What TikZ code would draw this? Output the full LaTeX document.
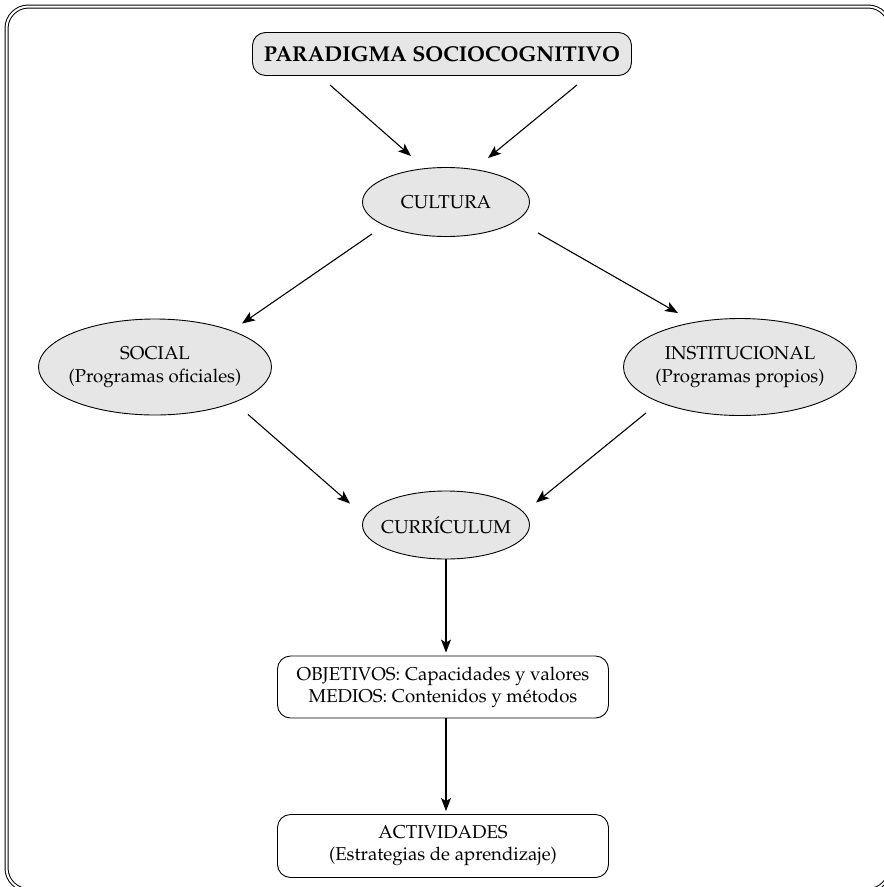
\documentclass[tikz,border=0pt]{standalone}
\usepackage[T1]{fontenc}
\usepackage{mathpazo}
\usepackage{tikz}
\usetikzlibrary{shapes, arrows.meta}
\definecolor{ovalgray}{RGB}{230,230,230}
\tikzstyle{oval} = [ellipse, draw, fill=ovalgray, line width=0.9pt, inner xsep=-20pt, inner ysep=0pt, align=center, font=\fontsize{18.6}{23}\selectfont]
\tikzstyle{rbox} = [rectangle, rounded corners=13pt, draw, line width=0.9pt, inner sep=0pt, minimum width=331pt, align=center, font=\fontsize{18.6}{22}\selectfont]
\tikzstyle{line} = [draw, line width=1.1pt, -{Stealth[length=13pt, width=10pt, inset=3pt]}]

\begin{document}
\begin{tikzpicture}[x=1pt, y=-1pt]
			\useasboundingbox (0,0) rectangle (884,887);
			\clip (0,0) rectangle (884,887);
			\draw [double, double distance=2pt, line width=1pt, rounded corners=22pt] (6.5,6.5) rectangle (890,890);
			
			\node [rbox, fill=ovalgray, minimum width=379pt, minimum height=43pt, font=\fontsize{21.5}{25}\selectfont\bfseries] (paradigma) at (442,54) {PARADIGMA SOCIOCOGNITIVO};
			\node [oval, minimum width=167pt, minimum height=69pt] (cultura) at (446,202) {CULTURA};
			\node [oval, minimum width=233pt, minimum height=96pt] (social) at (155,367) {SOCIAL\\(Programas oficiales)};
			\node [oval, minimum width=233pt, minimum height=97pt] (institucional) at (740,367) {INSTITUCIONAL\\(Programas propios)};
			\node [oval, minimum width=167pt, minimum height=68pt] (curriculum) at (446,525) {CURR\'ICULUM};
			\node [rbox, minimum height=62pt] (objetivos) at (443,687) {OBJETIVOS: Capacidades y valores\\MEDIOS: Contenidos y m\'etodos};
			\node [rbox, minimum height=63pt] (actividades) at (443,846) {ACTIVIDADES\\(Estrategias de aprendizaje)};
			
			\path [line] ([xshift=-112pt, yshift=-9pt]paradigma.south) -- ([xshift=-35pt, yshift=11pt]cultura.north);
			\path [line] ([xshift=135pt, yshift=-9pt]paradigma.south) -- ([xshift=42pt, yshift=9pt]cultura.north);
			\path [line] ([xshift=-74pt, yshift=3pt]cultura.south) -- ([xshift=87pt, yshift=-5pt]social.north);
			\path [line] ([xshift=92pt, yshift=4pt]cultura.south) -- ([xshift=-62pt, yshift=5pt]institucional.north);
			\path [line] ([xshift=93pt, yshift=1pt]social.south) -- ([xshift=-96pt, yshift=-13pt]curriculum.north);
			\path [line] ([xshift=-94pt, yshift=3pt]institucional.south) -- ([xshift=90pt, yshift=-12pt]curriculum.north);
			\path [line] (curriculum.south) -- ([yshift=3pt]curriculum.south |- objetivos.north);
			\path [line] (curriculum.south |- objetivos.south) -- ([yshift=3pt]curriculum.south |- actividades.north);
		\end{tikzpicture}
\end{document}
